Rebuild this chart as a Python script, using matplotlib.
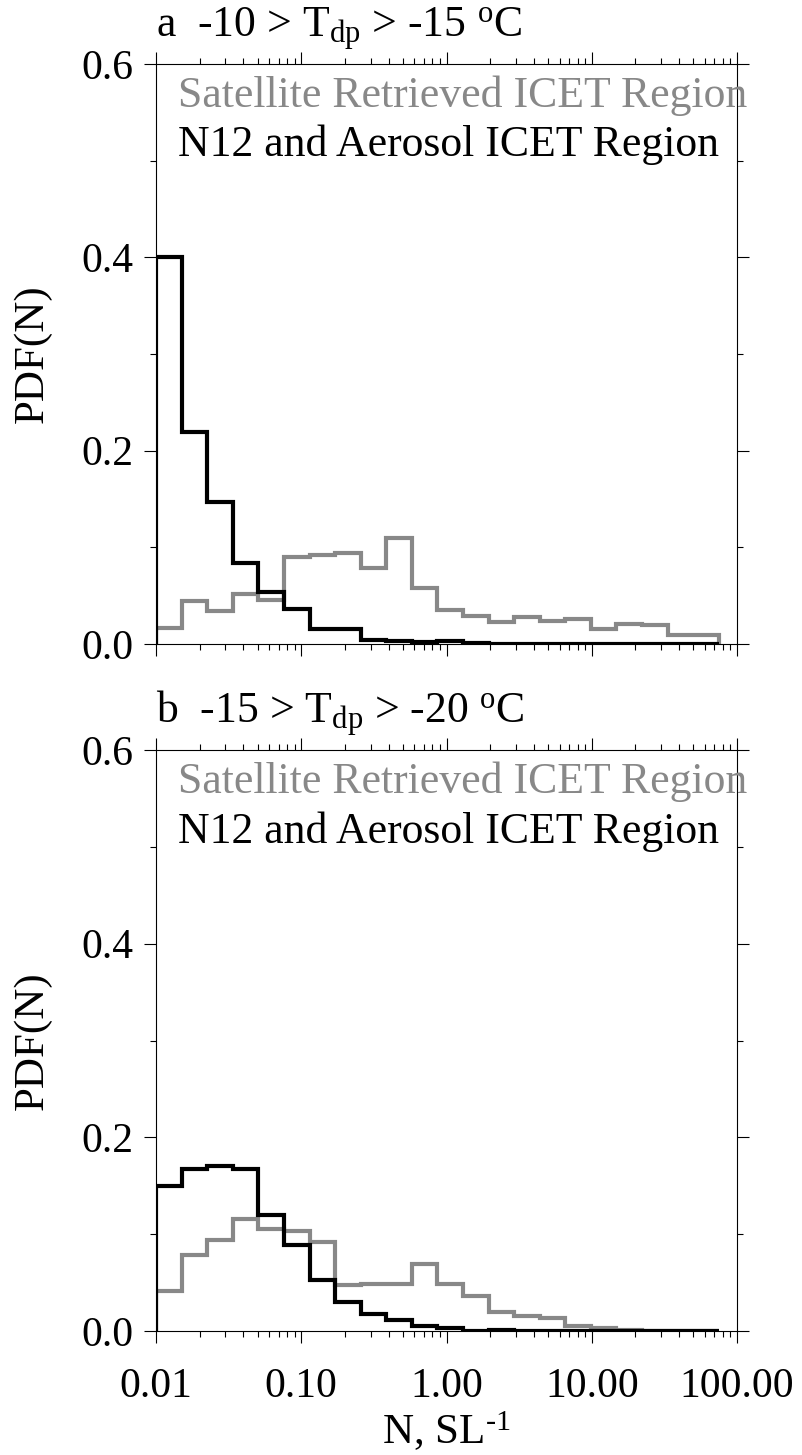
import matplotlib.pyplot as plt
from matplotlib.ticker import FixedLocator, LogLocator, NullFormatter, FixedFormatter

plt.rcParams['font.family'] = ['Liberation Serif', 'DejaVu Serif']
plt.rcParams['mathtext.fontset'] = 'custom'
plt.rcParams['mathtext.rm'] = 'Liberation Serif'
plt.rcParams['mathtext.it'] = 'Liberation Serif:italic'

# Bin edges in N (SL^-1), log spaced (factor 1.5)
bin_edges = [0.01, 0.015, 0.0225, 0.0338, 0.0506, 0.0759, 0.114, 0.171, 0.256,
             0.384, 0.577, 0.865, 1.30, 1.95, 2.92, 4.38, 6.57, 9.85, 14.8,
             22.2, 33.3, 49.9, 74.8]

# Panel a: -10 > Tdp > -15 C
a_satellite = [0.017, 0.044, 0.034, 0.052, 0.046, 0.090, 0.092, 0.094, 0.079, 0.110, 0.058,
               0.035, 0.029, 0.023, 0.028, 0.024, 0.026, 0.015, 0.021, 0.020, 0.009, 0.009]
a_n12 = [0.400, 0.219, 0.147, 0.084, 0.054, 0.036, 0.015, 0.015, 0.004, 0.003, 0.002,
         0.003, 0.001, 0.0, 0.0, 0.0, 0.0, 0.0, 0.0, 0.0, 0.0, 0.0]

# Panel b: -15 > Tdp > -20 C
b_satellite = [0.041, 0.079, 0.094, 0.116, 0.105, 0.103, 0.092, 0.048, 0.049, 0.049, 0.069,
               0.049, 0.036, 0.020, 0.016, 0.013, 0.0055, 0.003, 0.001, 0.0005, 0.0005, 0.0005]
b_n12 = [0.150, 0.167, 0.170, 0.167, 0.120, 0.089, 0.053, 0.030, 0.018, 0.011, 0.0055,
         0.0035, 0.0005, 0.001, 0.0005, 0.0, 0.0, 0.0, 0.0, 0.0, 0.0, 0.0]

panel_titles = [r"a  -10 > T$_{\mathrm{dp}}$ > -15 $^{\mathrm{o}}$C",
                r"b  -15 > T$_{\mathrm{dp}}$ > -20 $^{\mathrm{o}}$C"]
legend_labels = ["Satellite Retrieved ICET Region", "N12 and Aerosol ICET Region"]
x_ticks = [0.01, 0.1, 1, 10, 100]
x_tick_labels = ["0.01", "0.10", "1.00", "10.00", "100.00"]
y_ticks = [0.0, 0.2, 0.4, 0.6]
y_minor = [0.1, 0.3, 0.5]

gray = '#888888'

fig = plt.figure(figsize=(8.03, 14.55), dpi=100)
ax_a = fig.add_axes([0.1943, 0.5574, 0.7235, 0.3986])
ax_b = fig.add_axes([0.1943, 0.0852, 0.7235, 0.3993])

panels = [(ax_a, a_satellite, a_n12, panel_titles[0]),
          (ax_b, b_satellite, b_n12, panel_titles[1])]

for ax, sat, n12, title in panels:
    ax.stairs(sat, bin_edges, baseline=0, color=gray, lw=3.0)
    ax.stairs(n12, bin_edges, baseline=0, color='black', lw=3.0)

    ax.set_xscale('log')
    ax.set_xlim(0.01, 100)
    ax.set_ylim(0, 0.6)

    ax.xaxis.set_major_locator(FixedLocator(x_ticks))
    ax.xaxis.set_minor_locator(LogLocator(base=10, subs=range(2, 10), numticks=20))
    ax.xaxis.set_minor_formatter(NullFormatter())
    ax.yaxis.set_major_locator(FixedLocator(y_ticks))
    ax.yaxis.set_minor_locator(FixedLocator(y_minor))
    ax.set_yticklabels(["%.1f" % v for v in y_ticks])

    ax.tick_params(which='both', direction='out', top=True, right=True, width=0.8)
    ax.tick_params(which='major', length=8.5)
    ax.tick_params(which='minor', length=4)
    ax.tick_params(axis='y', labelsize=30, pad=8)
    ax.tick_params(axis='x', labelsize=30, pad=18)
    for s in ax.spines.values():
        s.set_linewidth(0.8)

    ax.set_ylabel("PDF(N)", fontsize=31, va='center')
    ax.yaxis.set_label_coords(-0.213, 0.5)

    ax.text(0.0, 1.046, title, transform=ax.transAxes, fontsize=31.5,
            ha='left', va='baseline')
    ax.text(0.038, 0.945, legend_labels[0], transform=ax.transAxes, fontsize=31.5,
            color=gray, ha='left', va='center', clip_on=False)
    ax.text(0.038, 0.860, legend_labels[1], transform=ax.transAxes, fontsize=31.5,
            color='black', ha='left', va='center')

ax_a.xaxis.set_major_formatter(NullFormatter())
ax_b.xaxis.set_major_formatter(FixedFormatter(x_tick_labels))
ax_b.set_xlabel(r"N, SL$^{\text{-1}}$", fontsize=31, labelpad=2)

plt.savefig("out.png", dpi=100)
